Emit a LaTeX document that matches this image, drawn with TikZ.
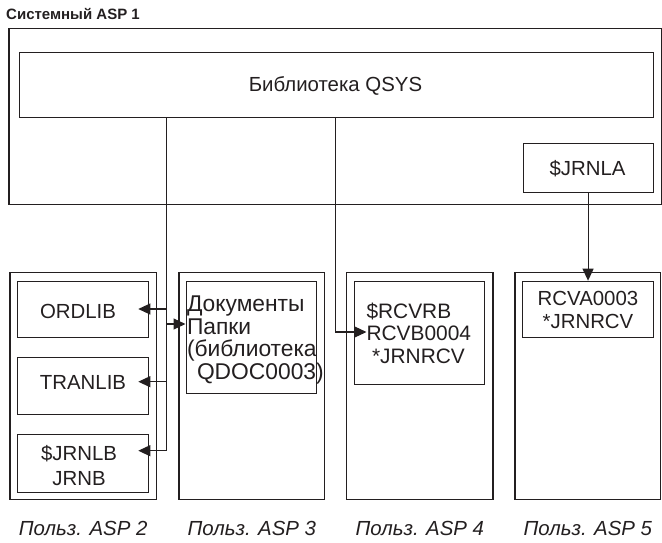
\documentclass[tikz,border=0pt]{standalone}
\usepackage{fontspec}
\setmainfont{Liberation Sans}
\usetikzlibrary{arrows.meta,calc}
\definecolor{ink}{HTML}{231F20}
\begin{document}
\begin{tikzpicture}[x=1pt,y=-1pt,
  frame/.style={draw=ink, line width=1.3pt, inner sep=0pt, anchor=north west},
  cell/.style={draw=ink, line width=1.1pt, inner sep=0pt, anchor=north west},
  txt/.style={text=ink, inner sep=0pt, font=\fontsize{20.4}{22.6}\selectfont},
  asplabel/.style={text=ink, inner sep=0pt, anchor=base, font=\fontsize{20.4}{24}\selectfont\itshape},
  link/.style={draw=ink, line width=1.1pt},
  tip/.style={link, -{Triangle[length=12pt,width=11pt]}}
]
\useasboundingbox (0,0) rectangle (662,542);

% system ASP with the QSYS library and the journal
\node[txt, anchor=base west, font=\fontsize{15}{18}\selectfont\bfseries] (title) at (6,19.5) {Системный ASP 1};
\node[frame, minimum width=652.7pt, minimum height=176pt] (asp1) at (8.3,28) {};
\node[cell, minimum width=634pt, minimum height=65pt] (qsys) at (18.5,52.3) {};
\node[txt, anchor=base] (qsyst) at (335.5,91.5) {Библиотека QSYS};
\node[cell, minimum width=130pt, minimum height=49pt] (jrnla) at (522.5,143) {};
\node[txt, anchor=base] (jrnlat) at (587.5,175) {\$JRNLA};

% user ASPs
\node[frame, minimum width=146.4pt, minimum height=227pt] (asp2) at (9.3,272) {};
\node[frame, minimum width=145.7pt, minimum height=227pt] (asp3) at (178.3,272) {};
\node[frame, minimum width=146.3pt, minimum height=227pt] (asp4) at (346,272) {};
\node[frame, minimum width=145.7pt, minimum height=227pt] (asp5) at (514.3,272) {};

% objects inside the user ASPs (multi-line texts are placed by their last baseline)
\node[cell, minimum width=130.2pt, minimum height=56.6pt] (ordlib) at (17.3,280.7) {};
\node[txt, anchor=base] (ordlibt) at (78,318.3) {ORDLIB};
\node[cell, minimum width=130.2pt, minimum height=57pt] (tranlib) at (17.3,357) {};
\node[txt, anchor=base] (tranlibt) at (83,389) {TRANLIB};
\node[cell, minimum width=130.2pt, minimum height=57.5pt] (jrnlb) at (17.3,434) {};
\node[txt, anchor=base, align=center, font=\fontsize{20.4}{24.3}\selectfont] (jrnlbt) at (79,485) {\$JRNLB\\JRNB};

\node[cell, minimum width=130.3pt, minimum height=112pt] (docs) at (185.7,280.7) {};
\node[txt, anchor=base west, align=left, font=\fontsize{22.8}{22.5}\selectfont] (docst) at (186.8,379.2) {Документы\\Папки\\(библиотека\\\hspace*{10pt}QDOC0003)};

\node[cell, minimum width=130.3pt, minimum height=103.6pt] (rcvb) at (354,280.7) {};
\node[txt, anchor=base west, align=left, font=\fontsize{20.9}{22.6}\selectfont] (rcvbt) at (366.3,363.5) {\$RCVRB\\RCVB0004\\\hspace*{5.5pt}*JRNRCV};

\node[cell, minimum width=130.4pt, minimum height=56.6pt] (rcva) at (522.3,280.7) {};
\node[txt, anchor=base, align=center] (rcvat) at (588,328.3) {RCVA0003\\*JRNRCV};

% captions
\node[asplabel] (cap2) at ($(asp2.south)+(0,35)$) {Польз. ASP 2};
\node[asplabel] (cap3) at ($(asp3.south)+(0,35)$) {Польз. ASP 3};
\node[asplabel] (cap4) at ($(asp4.south)+(0,35)$) {Польз. ASP 4};
\node[asplabel] (cap5) at ($(asp5.south)+(0,35)$) {Польз. ASP 5};

% connectors
\coordinate (ta) at (166.5,117.3);
\coordinate (tb) at (335.5,117.3);
\coordinate (e1) at (138.3,309);
\coordinate (e2) at (138.3,381.7);
\coordinate (e3) at (138.3,450.7);
\coordinate (e4) at (185.5,324);
\coordinate (e5) at (366.5,332);
\draw[tip] (ta) |- (e3);
\draw[tip] (ta |- e1) -- (e1);
\draw[tip] (ta |- e2) -- (e2);
\draw[tip] (ta |- e4) -- (e4);
\draw[tip] (tb) |- (e5);
\draw[tip] (jrnla.south) -- (jrnla.south |- rcva.north);
\end{tikzpicture}
\end{document}
